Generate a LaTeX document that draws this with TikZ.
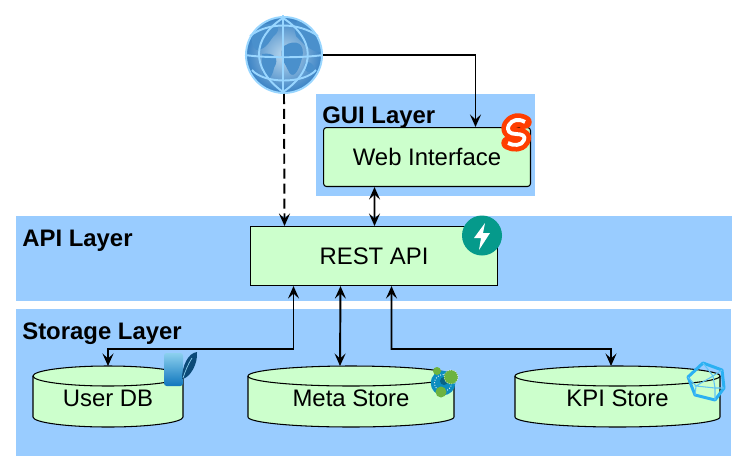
\documentclass[tikz,border=0pt]{standalone}
\usepackage{fontspec}
\setmainfont{Liberation Sans}
\usetikzlibrary{arrows.meta}

\definecolor{layerblue}{HTML}{99CCFF}
\definecolor{boxgreen}{HTML}{CCFFCC}
\definecolor{globeblue}{HTML}{3A82C4}
\definecolor{globelight}{HTML}{BCD9EE}
\definecolor{globeland}{HTML}{4A90CC}
\definecolor{globering}{HTML}{99D6FF}
\definecolor{svelte}{HTML}{FF3E00}
\definecolor{fastapi}{HTML}{059A8B}
\definecolor{neoblue}{HTML}{0C8DBF}
\definecolor{neogreen}{HTML}{6DB33F}
\definecolor{polyblue}{HTML}{2BB0F2}
\definecolor{sqlblue}{HTML}{0F76BD}
\definecolor{sqllight}{HTML}{8CD0EE}
\definecolor{sqldark}{HTML}{0B4A78}

\tikzset{
  layerbox/.style={fill=layerblue,draw=none},
  layertext/.style={font=\fontsize{13.6}{16}\selectfont\bfseries,anchor=base west,inner sep=0pt},
  labeltext/.style={font=\fontsize{13.6}{16}\selectfont,inner sep=0pt},
  procbox/.style={draw=black,fill=boxgreen,rounded corners=1.7pt,line width=0.6pt,
    labeltext,anchor=north west},
  drumline/.style={draw=black,line width=0.6pt},
  flow/.style={line width=1.1pt,-{Stealth[length=2.5mm,width=2.2mm,inset=1mm]}},
  flowboth/.style={line width=1.1pt,{Stealth[length=2.5mm,width=2.2mm,inset=1mm]}-{Stealth[length=2.5mm,width=2.2mm,inset=1mm]}},
  globeline/.style={globering,line width=1.1pt},
}

% store drum: name, centre x, half width, text
\newcommand{\storedrum}[4]{
  \begin{scope}[shift={(#2,376)},x=#3*0.02cm]
    \draw[drumline,fill=boxgreen] (-1,0) -- (-1,41) .. controls (-1,46.5) and (-.55,51) .. (0,51)
      .. controls (.55,51) and (1,46.5) .. (1,41) -- (1,0)
      .. controls (1,-5.5) and (.55,-10) .. (0,-10) .. controls (-.55,-10) and (-1,-5.5) .. (-1,0) -- cycle;
    \draw[drumline] (-1,0) .. controls (-1,5.5) and (-.55,10) .. (0,10) .. controls (.55,10) and (1,5.5) .. (1,0);
  \end{scope}
  \node[inner sep=0pt,outer sep=0pt,minimum width=#3*0.04cm,minimum height=1.22cm] (#1) at (#2,396.5) {};
  \node[labeltext] (#1text) at (#2,398) {#4};
}

\begin{document}
\begin{tikzpicture}[x=0.02cm,y=-0.02cm]
\useasboundingbox (0,0) rectangle (747,471);

% layers
\draw[layerbox] (316,94) rectangle (535,196);
\draw[layerbox] (16,216) rectangle (732,301);
\draw[layerbox] (16,309) rectangle (731,456);
\node[layertext] (guilabel) at (322,123) {GUI Layer};
\node[layertext] (apilabel) at (22,246) {API Layer};
\node[layertext] (storelabel) at (22,339) {Storage Layer};

% boxes
\node[procbox,minimum width=4.14cm,minimum height=1.18cm] (web) at (323,127) {Web Interface};
\node[procbox,rounded corners=0pt,minimum width=4.94cm,minimum height=1.18cm] (rest) at (250,226) {REST API};

% stores
\storedrum{userdb}{108}{75}{User DB}
\storedrum{meta}{351}{103}{Meta Store}
\storedrum{kpi}{617.5}{102.5}{KPI Store}

% globe
\node[circle,minimum size=1.56cm,inner sep=0pt,outer sep=0pt] (globe) at (284,55) {};
\shade[inner color=globelight,outer color=globeblue] (284,55) circle (38);
\begin{scope}
\clip (284,55) circle (38);
\fill[globeland] (256,26) .. controls (268,22) and (284,24) .. (276,34) .. controls (270,38) and (268,50) .. (256,50) .. controls (250,44) and (250,32) .. (256,26);
\fill[globeland] (262,54) .. controls (274,52) and (280,58) .. (274,68) .. controls (272,80) and (264,84) .. (262,70) -- cycle;
\fill[globeland] (284,46) .. controls (296,38) and (306,44) .. (302,58) .. controls (298,74) and (292,80) .. (288,70) .. controls (284,62) and (278,54) .. (284,46);
\fill[globeland] (298,20) .. controls (316,22) and (326,40) .. (322,52) .. controls (310,52) and (304,44) .. (296,36) .. controls (294,30) and (294,24) .. (298,20);
\fill[globeland] (306,62) .. controls (314,62) and (316,68) .. (312,72) .. controls (306,74) and (302,68) .. (306,62);
\end{scope}
\draw[globeline] (284,55) circle (38);
\draw[globeline] (283,15) -- (283,94);
\draw[globeline] (245,55) .. controls (265,58) and (303,58) .. (323,55);
\draw[globeline] (283,18) .. controls (252,38) and (250,68) .. (283,92);
\draw[globeline] (283,18) .. controls (314,38) and (318,68) .. (283,92);
\draw[globeline] (250,36) .. controls (268,22) and (298,22) .. (318,36);
\draw[globeline] (252,70) .. controls (264,84) and (304,84) .. (316,70);

% links
\coordinate (userbend) at (108,349);
\coordinate (kpibend) at (611,349);
\draw[flow] (globe.east) -| ([xshift=0.97cm]web.north);
\draw[flow,dash pattern=on 5.7pt off 2.8pt] (globe.south) -- ([xshift=-1.79cm]rest.north);
\draw[flowboth] ([xshift=-1.05cm]web.south) -- ([xshift=0.01cm]rest.north);
\draw[flowboth] ([xshift=-1.61cm]rest.south) |- (userbend) -- (userdb.north);
\draw[flowboth] ([xshift=-0.67cm]rest.south) -- ([xshift=-0.22cm]meta.north);
\draw[flowboth] ([xshift=0.35cm]rest.south) |- (kpibend) -- ([xshift=-0.13cm]kpi.north);

% svelte icon
\draw[svelte,line width=7.6pt,line join=round,line cap=round]
  (525,122) .. controls (518,118) and (512,120) .. (509,125) .. controls (506,131) and (510,134) .. (516,134)
  .. controls (522,134) and (526,136) .. (524,140) .. controls (522,146) and (513,146) .. (508,143);
\draw[white,line width=2.2pt,line join=round]
  (525,122) .. controls (518,118) and (512,120) .. (509,125) .. controls (506,131) and (510,134) .. (516,134)
  .. controls (522,134) and (526,136) .. (524,140) .. controls (522,146) and (513,146) .. (508,143);

% fastapi icon
\fill[fastapi] (482,235.5) circle (20);
\fill[white] (485,223) -- (474,238) -- (481,238) -- (479,250) -- (490,233) -- (483,233) -- cycle;

% sql icon
\shade[top color=sqllight,bottom color=sqlblue,rounded corners=1.5pt] (164,353) rectangle (183,386);
\fill[sqldark] (197,352) .. controls (188,353) and (182,366) .. (182,379) .. controls (190,378) and (198,364) .. (197,352);
\draw[sqllight,line width=0.4pt] (192,358) .. controls (188,364) and (185,372) .. (183,378);

% neo icon
\fill[neoblue] (443,383) circle (12.3);
\draw[white,line width=0.5pt,densely dotted] (443,383) circle (8.5);
\fill[neoblue!70!black] (444,381) circle (4);
\fill[neogreen] (437,371) circle (4);
\filldraw[neogreen,draw=white,densely dotted,line width=0.4pt] (451,377) circle (7);
\fill[neogreen] (441,392) circle (5.5);

% kpi icon
\draw[polyblue,line width=1.7pt,line join=round]
  (703,363) -- (722,370) -- (724,388) -- (715,400) -- (695,395) -- (688,377) -- cycle;
\draw[polyblue!75!white,line width=0.6pt]
  (703,363) -- (713,376) -- (722,370) (713,376) -- (696,386) -- (715,388) -- (713,376)
  (688,377) -- (696,386) -- (695,395) (715,388) -- (724,388) (715,388) -- (715,400);

\end{tikzpicture}
\end{document}
